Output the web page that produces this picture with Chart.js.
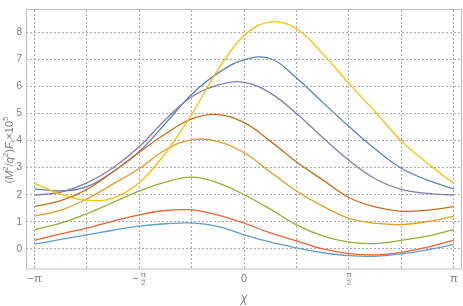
<!DOCTYPE html>
<html>
<head>
<meta charset="utf-8">
<script src="https://cdn.jsdelivr.net/npm/chart.js@4/dist/chart.umd.min.js"></script>
<style>
html,body{margin:0;padding:0;background:#fff;}
#wrap{width:463px;height:306px;}
</style>
</head>
<body>
<div id="wrap"><canvas id="c" width="463" height="306"></canvas></div>
<script>
// χ sample positions, in units of π
const chiOverPi = [-1,-0.875,-0.75,-0.625,-0.5,-0.375,-0.25,-0.125,0,0.125,0.25,0.375,0.5,0.625,0.75,0.875,1];
// Series values (M²/q²)F_r × 10⁵
const blue      = [2.22, 2.14, 2.30, 2.86, 3.60, 4.64, 5.71, 6.49, 6.98, 7.03, 6.31, 5.41, 4.52, 3.69, 2.98, 2.54, 2.22];
const orange    = [1.21, 1.43, 1.85, 2.40, 2.97, 3.66, 4.03, 3.96, 3.55, 2.84, 2.14, 1.58, 1.13, 0.95, 0.90, 1.01, 1.21];
const green     = [0.71, 0.95, 1.30, 1.72, 2.14, 2.47, 2.65, 2.44, 2.00, 1.47, 0.89, 0.48, 0.25, 0.20, 0.32, 0.47, 0.71];
const red       = [0.32, 0.56, 0.77, 1.03, 1.26, 1.42, 1.44, 1.25, 0.95, 0.59, 0.30, 0.00, -0.17, -0.22, -0.13, 0.07, 0.32];
const purple    = [1.99, 2.10, 2.44, 3.00, 3.78, 4.78, 5.62, 6.05, 6.15, 5.75, 5.00, 4.11, 3.27, 2.59, 2.20, 2.05, 1.99];
const brown     = [1.56, 1.78, 2.20, 2.85, 3.57, 4.25, 4.80, 4.96, 4.66, 3.98, 3.21, 2.55, 1.90, 1.55, 1.39, 1.43, 1.56];
const lightBlue = [0.18, 0.35, 0.52, 0.69, 0.84, 0.93, 0.96, 0.83, 0.52, 0.25, 0.04, -0.14, -0.25, -0.27, -0.18, -0.03, 0.16];
const yellow    = [2.42, 2.02, 1.80, 1.88, 2.45, 3.55, 4.97, 6.62, 7.88, 8.38, 8.13, 7.20, 6.11, 5.06, 3.99, 3.15, 2.42];
// Tick definitions
const yTicks = [0,1,2,3,4,5,6,7,8];
const xGridOverPi = [-1,-0.75,-0.5,-0.25,0,0.25,0.5,0.75,1];
const xTickLabels = [
  {v:-1,   minus:true,  num:'π', den:null},
  {v:-0.5, minus:true,  num:'π', den:'2'},
  {v:0,    minus:false, num:'0', den:null},
  {v:0.5,  minus:false, num:'π', den:'2'},
  {v:1,    minus:false, num:'π', den:null}
];

const seriesList = [
  {data: blue,      color: '#5E81B5'},
  {data: orange,    color: '#E19C24'},
  {data: green,     color: '#8FB032'},
  {data: red,       color: '#EB6235'},
  {data: purple,    color: '#8778B3'},
  {data: brown,     color: '#C56E1A'},
  {data: lightBlue, color: '#5D9EC7'},
  {data: yellow,    color: '#FFBF00'}
];

const datasets = seriesList.map((s, i) => ({
  data: s.data.map((y, j) => ({x: chiOverPi[j] * Math.PI, y})),
  borderColor: s.color,
  borderWidth: 1.3,
  pointRadius: 0,
  tension: 0.4,
  fill: false,
  order: seriesList.length - i
}));

const TXT = '#7a7a7a';
const FONT = '"Liberation Sans", Arial, sans-serif';

const decor = {
  id: 'decor',
  afterDraw(chart) {
    const ctx = chart.ctx, a = chart.chartArea;
    const xs = chart.scales.x;
    ctx.save();
    // frame
    ctx.strokeStyle = '#bdbdbd';
    ctx.lineWidth = 1;
    ctx.strokeRect(Math.round(a.left) + 0.5, Math.round(a.top) - 0.5, Math.round(a.right - a.left) - 1, Math.round(a.bottom - a.top) + 0.5);
    // x tick labels
    ctx.fillStyle = TXT;
    ctx.textBaseline = 'middle';
    const ly = 278.5;
    xTickLabels.forEach(t => {
      const px = xs.getPixelForValue(t.v * Math.PI);
      if (t.den === null) {
        ctx.font = '11px ' + FONT;
        const label = (t.minus ? '\u2212' : '') + t.num;
        ctx.textAlign = 'center';
        ctx.fillText(label, px, ly);
      } else {
        let fx = px;
        if (t.minus) {
          ctx.font = '11px ' + FONT;
          ctx.textAlign = 'center';
          ctx.fillText('\u2212', px - 4, ly);
          fx = px + 4;
        }
        ctx.font = '8px ' + FONT;
        ctx.textAlign = 'center';
        ctx.fillText(t.num, fx, ly - 4);
        ctx.fillText(t.den, fx, ly + 4.5);
        ctx.strokeStyle = '#b0b0b0';
        ctx.lineWidth = 0.6;
        ctx.beginPath();
        ctx.moveTo(fx - 3, ly + 0.5);
        ctx.lineTo(fx + 3, ly + 0.5);
        ctx.stroke();
      }
    });
    // x axis title
    ctx.font = 'italic 12px ' + FONT;
    ctx.textAlign = 'center';
    ctx.fillText('\u03C7', xs.getPixelForValue(0), 299);
    // y axis title with super/subscripts
    const segs = [
      {t:'(', f:'11px'}, {t:'M', f:'italic 11px'}, {t:'2', f:'8px', dy:-4},
      {t:'/', f:'11px'}, {t:'q', f:'italic 11px'}, {t:'2', f:'8px', dy:-4},
      {t:')', f:'11px'}, {t:'F', f:'italic 11px'}, {t:'r', f:'italic 8px', dy:3},
      {t:'\u00D710', f:'11px'}, {t:'5', f:'8px', dy:-4}
    ];
    let total = 0;
    segs.forEach(s => { ctx.font = s.f + ' ' + FONT; s.w = ctx.measureText(s.t).width; total += s.w; });
    ctx.translate(10, 150);
    ctx.rotate(-Math.PI / 2);
    ctx.textAlign = 'left';
    ctx.textBaseline = 'middle';
    let cx = -total / 2;
    segs.forEach(s => {
      ctx.font = s.f + ' ' + FONT;
      ctx.fillText(s.t, cx, s.dy || 0);
      cx += s.w;
    });
    ctx.restore();
  }
};

new Chart(document.getElementById('c'), {
  type: 'line',
  data: { datasets },
  options: {
    responsive: false,
    animation: false,
    devicePixelRatio: 1,
    layout: { padding: { top: 1, right: 1, left: 0, bottom: 0 } },
    plugins: { legend: { display: false }, tooltip: { enabled: false } },
    scales: {
      x: {
        type: 'linear',
        min: -3.27,
        max: 3.266,
        afterBuildTicks: s => { s.ticks = xGridOverPi.map(v => ({value: v * Math.PI})); },
        afterFit: s => { s.height = 37; },
        ticks: { display: false },
        grid: { color: '#a8a8a8', lineWidth: 1, drawTicks: false },
        border: { display: false, dash: [2, 2] }
      },
      y: {
        type: 'linear',
        min: -0.74,
        max: 8.82,
        afterBuildTicks: s => { s.ticks = yTicks.map(v => ({value: v})); },
        afterFit: s => { s.width = 26; },
        ticks: { color: TXT, font: { size: 10, family: FONT }, padding: 4 },
        grid: { color: '#a8a8a8', lineWidth: 1, drawTicks: false },
        border: { display: false, dash: [2, 2] }
      }
    }
  },
  plugins: [decor]
});
</script>
</body>
</html>
